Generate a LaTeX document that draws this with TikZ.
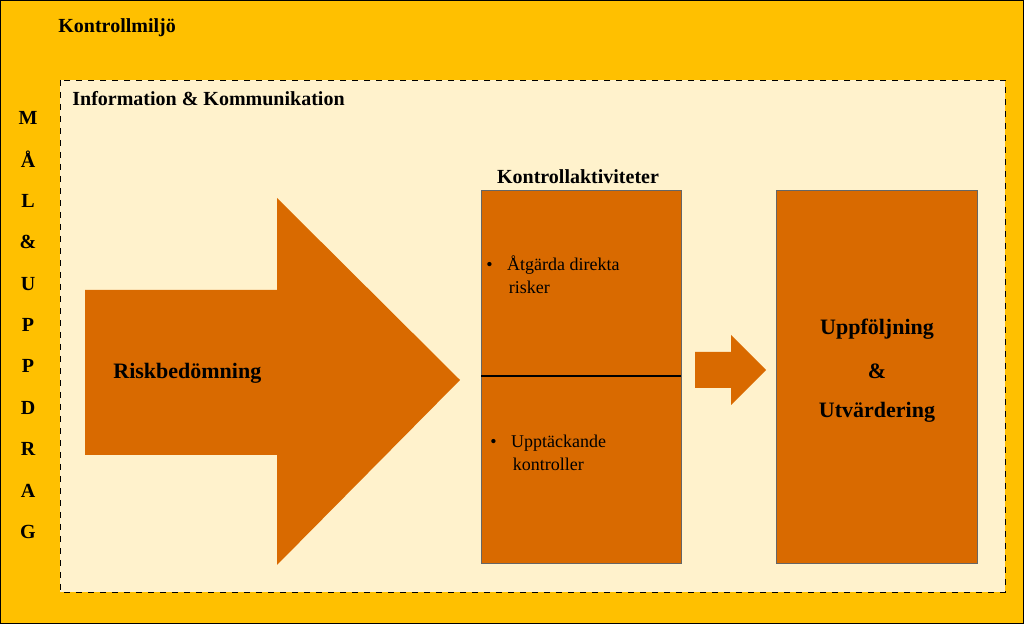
\documentclass[tikz,border=0pt]{standalone}
\usepackage{fontspec}
\setmainfont{Liberation Serif}
\definecolor{envyellow}{HTML}{FFC000}
\definecolor{infocream}{HTML}{FFF2CC}
\definecolor{riskorange}{HTML}{D96A00}
\tikzset{
  heading/.style={font=\bfseries\fontsize{10}{12}\selectfont, anchor=west, inner sep=0},
  bigbold/.style={font=\bfseries\fontsize{11}{13}\selectfont, inner sep=0},
  bullettext/.style={font=\fontsize{9}{11.5}\selectfont, align=left, anchor=north west, inner sep=0},
  orangebox/.style={fill=riskorange, draw=black!60, line width=0.3pt}
}
\begin{document}
\begin{tikzpicture}[x=0.5pt,y=-0.5pt]
  \useasboundingbox (0,0) rectangle (1024,624);
  % outer frame and information frame
  \draw [fill=envyellow, draw=black, line width=0.6pt] (0.5,0.5) rectangle (1023.5,623.5);
  \node [heading] (miljo) at (58,28) {Kontrollmiljö};
  \draw [fill=infocream, dashed, line width=0.4pt] (60,80) rectangle (1005,592);
  \node [heading] (info) at (72,99) {Information \& Kommunikation};

  % vertical text
  \foreach \ch [count=\i from 0] in {M,Å,L,\&,U,P,P,D,R,A,G}
    \node [bigbold, font=\bfseries\fontsize{10}{12}\selectfont] (v\i) at (28,118+41.4*\i) {\ch};

  % big arrow
  \fill [riskorange] (85,290) -- (277,290) -- (277,198) -- (460,380) -- (277,565)
    -- (277,455) -- (85,455) -- cycle;
  \node [bigbold, anchor=west] (risk) at (113,373) {Riskbedömning};

  % control activities
  \node [bigbold, font=\bfseries\fontsize{10}{12}\selectfont] (aktiv) at (578,177) {Kontrollaktiviteter};
  \draw [orangebox] (481,190) rectangle (681,563);
  \draw [black, line width=0.6pt] (481,376) -- (681,376);
  \node [bullettext] (b1) at (486,255) {•\hspace{0.8em}Åtgärda direkta\\\hspace{1.25em}risker};
  \node [bullettext] (b2) at (490,435) {•\hspace{0.8em}Upptäckande\\\hspace{1.25em}kontroller};

  % small arrow
  \fill [riskorange] (695,352) -- (731,352) -- (731,335) -- (766,370) -- (731,405)
    -- (731,388) -- (695,388) -- cycle;

  % follow-up
  \draw [orangebox] (776,190) rectangle (977,563);
  \node [bigbold] (upp) at (877,329) {Uppföljning};
  \node [bigbold] (och) at (877,371) {\&};
  \node [bigbold] (utv) at (877,412) {Utvärdering};
\end{tikzpicture}
\end{document}
